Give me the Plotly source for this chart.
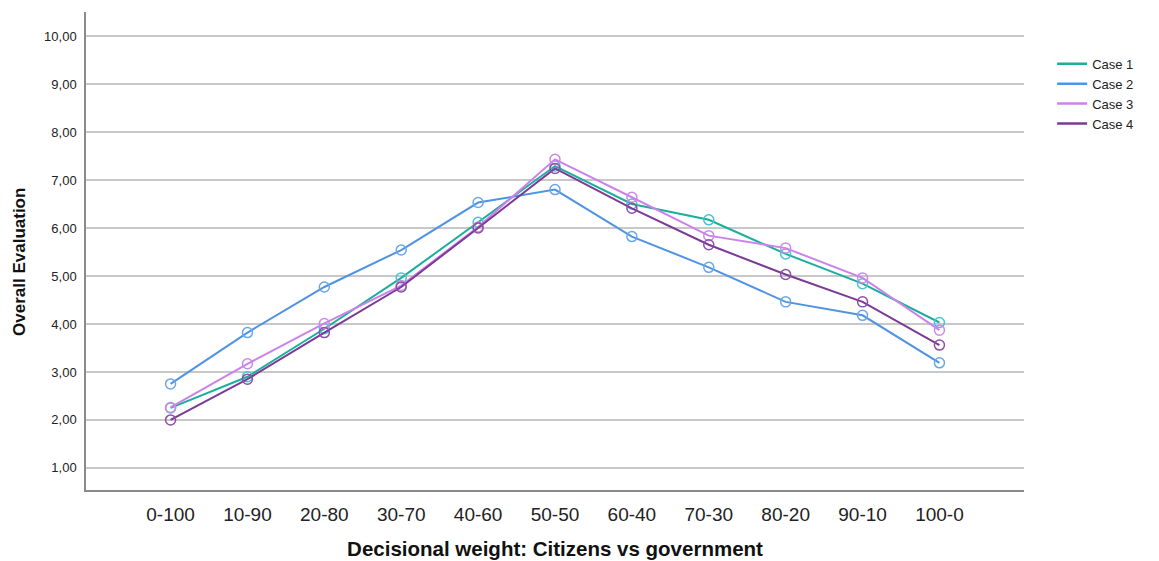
import plotly.graph_objects as go

categories = ["0-100", "10-90", "20-80", "30-70", "40-60", "50-50",
              "60-40", "70-30", "80-20", "90-10", "100-0"]
case1 = [2.25, 2.90, 3.90, 4.96, 6.12, 7.29, 6.50, 6.17, 5.46, 4.84, 4.03]
case2 = [2.75, 3.82, 4.77, 5.54, 6.53, 6.80, 5.82, 5.18, 4.46, 4.18, 3.19]
case3 = [2.26, 3.17, 4.01, 4.80, 6.02, 7.43, 6.64, 5.84, 5.58, 4.96, 3.87]
case4 = [2.00, 2.85, 3.82, 4.77, 6.00, 7.24, 6.41, 5.65, 5.03, 4.46, 3.56]
series_names = ["Case 1", "Case 2", "Case 3", "Case 4"]
tick_vals = [1, 2, 3, 4, 5, 6, 7, 8, 9, 10]
tick_text = ["1,00", "2,00", "3,00", "4,00", "5,00", "6,00", "7,00", "8,00", "9,00", "10,00"]

line_colors = ["#1aae9c", "#4f93e3", "#cc82ea", "#7a3a96"]
marker_colors = ["#45c4d4", "#6aa6ec", "#c98ae8", "#8e4fa6"]

fig = go.Figure()
for name, vals, lc, mc in zip(series_names, [case1, case2, case3, case4], line_colors, marker_colors):
    fig.add_trace(go.Scatter(
        x=categories, y=vals, name=name, mode="lines+markers",
        line=dict(color=lc, width=2), showlegend=False, legendgroup=name,
        marker=dict(symbol="circle-open", size=10, color=mc, line=dict(width=1.5, color=mc)),
    ))
# legend entries drawn as plain line swatches
for name, lc in zip(series_names, line_colors):
    fig.add_trace(go.Scatter(
        x=[None], y=[None], name=name, mode="lines", legendgroup=name,
        line=dict(color=lc, width=2.5), showlegend=True,
    ))

fig.add_annotation(
    text="<b>Overall Evaluation</b>", textangle=-90,
    xref="paper", yref="paper", x=-0.0704, y=0.477,
    xanchor="center", yanchor="middle", showarrow=False,
    font=dict(size=17, color="#111"),
)

fig.update_layout(
    width=1151, height=553,
    margin=dict(l=78, r=135, t=4, b=69),
    paper_bgcolor="white", plot_bgcolor="white",
    font=dict(family="Liberation Sans, Arial, sans-serif", color="#222"),
    showlegend=True,
    legend=dict(x=1.03, y=0.923, xanchor="left", yanchor="top",
                font=dict(size=13, color="#222"), tracegroupgap=0,
                itemwidth=30, bgcolor="rgba(0,0,0,0)"),
    xaxis=dict(
        type="category", range=[-1.1, 11.1],
        showgrid=False, zeroline=False,
        showline=True, linecolor="#8a8a8a", linewidth=1.5,
        ticks="", tickfont=dict(size=19, color="#222"), ticklabelstandoff=6,
        title=dict(text="<b>Decisional weight: Citizens vs government</b>",
                   font=dict(size=20.5, color="#111"), standoff=18),
    ),
    yaxis=dict(
        range=[0.54, 10.5], tickvals=tick_vals, ticktext=tick_text,
        showgrid=True, gridcolor="#c8c8c8", gridwidth=1.5, zeroline=False,
        showline=True, linecolor="#8a8a8a", linewidth=1.5,
        ticks="", tickfont=dict(size=13, color="#222"), ticklabelstandoff=5,
    ),
)

fig.write_html("out.html")
